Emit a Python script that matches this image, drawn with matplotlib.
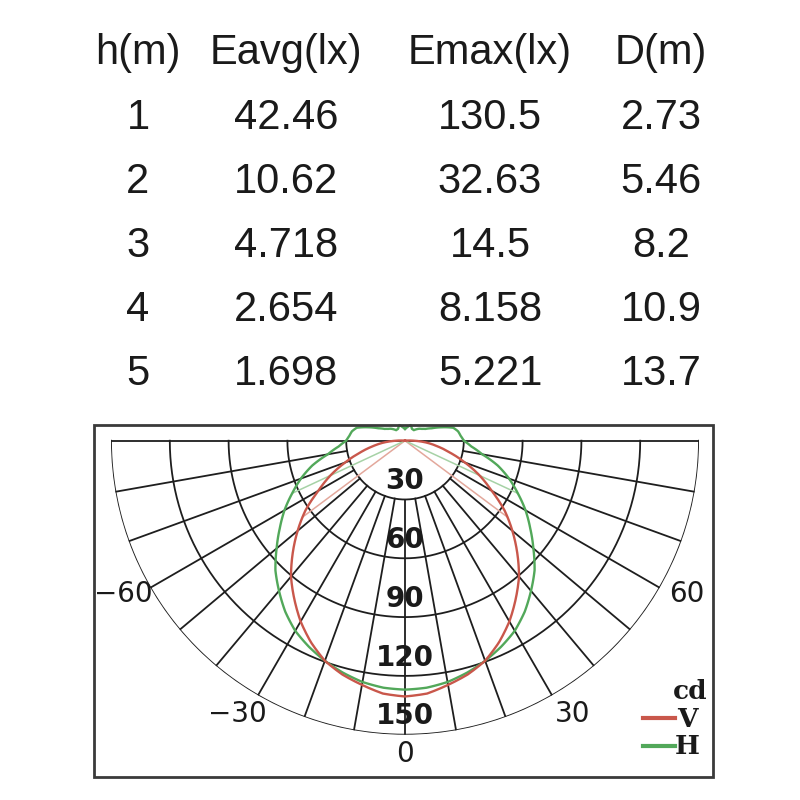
import numpy as np
import matplotlib
matplotlib.use("Agg")
import matplotlib.pyplot as plt
from matplotlib.patches import Rectangle
from matplotlib.lines import Line2D

# ---------------- data ----------------
headers = ["h(m)", "Eavg(lx)", "Emax(lx)", "D(m)"]
h_m = [1, 2, 3, 4, 5]
eavg = [42.46, 10.62, 4.718, 2.654, 1.698]
emax = [130.5, 32.63, 14.5, 8.158, 5.221]
dist = [2.73, 5.46, 8.2, 10.9, 13.7]

ring_values = [30, 60, 90, 120, 150]
angle_ticks = [-60, -30, 0, 30, 60]

# V plane (cd) vs angle from nadir (deg), symmetric
v_angles = [0, 5, 10, 15, 20, 25, 30, 35, 40, 45, 50, 55, 60, 65, 70, 75, 80, 85, 90, 95]
v_cd = [130.5, 129.5, 126.5, 123.5, 119.5, 113.5, 106.5, 98.5, 90.5, 81, 71.5, 62,
        51, 42, 32.5, 24, 17, 11, 4.5, 0]

# H plane (cd) vs angle from nadir (deg), symmetric
h_angles = [0, 5, 10, 15, 20, 25, 30, 35, 40, 45, 50, 55, 60, 65, 70, 75, 80, 85, 90,
            95, 100, 105, 110, 115, 120, 125, 130, 140, 150, 160, 170, 180]
h_cd = [127, 126.5, 125, 122.5, 119.5, 116, 112, 106.5, 100, 93.5, 85.5, 78, 71, 63.5,
        56.5, 49, 40, 34, 30, 28.5, 27.5, 25.5, 20, 15, 12, 10.5, 9.5, 7, 7, 8.5, 7, 6]

RED = "#c9574b"
GREEN = "#52a85a"
RED_L = "#e3a89c"
GREEN_L = "#a6d2a6"
GRID = "#1e1e1e"

W = H = 800
fig = plt.figure(figsize=(8, 8), dpi=100)


def fx(x):
    return x / W


def fy(y):
    return 1 - y / H


# ---------------- table ----------------
col_x = [138, 286, 490, 661]
header_y = 63.8
row_y = [129.4, 193.4, 257.4, 321.3, 385.3]
tfont = dict(family=["Liberation Sans", "DejaVu Sans"], size=30, ha="center", va="baseline", color="#1a1a1a")
for x, t in zip(col_x, headers):
    fig.text(fx(x), fy(header_y), t, **tfont)
for i, y in enumerate(row_y):
    for x, col in zip(col_x, [h_m, eavg, emax, dist]):
        fig.text(fx(x), fy(y), f"{col[i]:g}", **tfont)

# ---------------- frame ----------------
fig.add_artist(Rectangle((fx(94), fy(777)), (713 - 94) / W, (777 - 425) / H,
                         transform=fig.transFigure, fill=False, lw=2, ec="#3a3a3a"))

# ---------------- polar diagram ----------------
cx, cy, R = 405, 440.7, 294
ax = fig.add_axes([fx(cx - R), fy(cy + R), 2 * R / W, 2 * R / H], projection="polar")
ax.set_theta_zero_location("S")
ax.set_theta_direction(1)
ax.set_ylim(0, 150)
ax.grid(False)
ax.set_xticks([])
ax.set_yticks([])
ax.spines["polar"].set_visible(False)
ax.patch.set_alpha(0)

# rings (lower half)
th = np.radians(np.linspace(-90, 90, 361))
for r in ring_values:
    ax.plot(th, np.full_like(th, r), color=GRID, lw=1.3, zorder=1)
# spokes
for a in range(-80, 81, 10):
    ax.plot([np.radians(a)] * 2, [ring_values[0], ring_values[-1]], color=GRID, lw=1.3, zorder=1)
for a in (-90, 90):
    ax.plot([np.radians(a)] * 2, [0, ring_values[-1]], color=GRID, lw=1.3, zorder=1)


# curves (mirror the symmetric halves)
def full(angles, vals):
    a = np.array(angles, float)
    v = np.array(vals, float)
    aa = np.concatenate([-a[::-1], a[1:]])
    vv = np.concatenate([v[::-1], v[1:]])
    return np.radians(aa), vv


tv, rv = full(v_angles, v_cd)
tg, rg = full(h_angles, h_cd)


# half-intensity (beam) lines
def half_angle(angles, vals, upto=90):
    a = np.array([x for x in angles if x <= upto], float)
    v = np.array(vals[:len(a)], float)
    return np.interp(v[0] / 2, v[::-1], a[::-1])


for angs, vals, col in ((v_angles, v_cd, RED_L), (h_angles, h_cd, GREEN_L)):
    ha_ = half_angle(angs, vals)
    rr = vals[0] / 2
    for s in (-1, 1):
        ax.plot([np.radians(s * ha_)] * 2, [0, rr], color=col, lw=1.1, zorder=2)

lg, = ax.plot(tg, rg, color=GREEN, lw=1.7, zorder=3)
lv, = ax.plot(tv, rv, color=RED, lw=1.7, zorder=3)
# let the polar transform draw each segment as a curve in (theta, r)
for ln in (lg, lv):
    ln.get_path()._interpolation_steps = 24

# ring labels
for r in ring_values:
    ax.text(0, r - 2.2, f"{r}", ha="center", va="bottom", fontsize=20, fontweight="bold",
            family="DejaVu Sans", color="#1a1a1a", zorder=4)

# angle labels
for a in angle_ticks:
    lab = f"{a}".replace("-", "\u2212")
    if a == 0:
        ax.text(0, 160, lab, ha="center", va="center", fontsize=20, family="DejaVu Sans", color="#1a1a1a")
    else:
        pa = a + np.sign(a) * 1.5
        ax.text(np.radians(pa), 163.5, lab, ha="center", va="center", fontsize=20,
                family="DejaVu Sans", color="#1a1a1a")

# legend (unit + plane keys)
lfont = dict(family=["DejaVu Serif"], fontweight="bold", size=19, color="#1a1a1a", va="baseline")
fig.text(fx(690), fy(699), "cd", ha="center", **lfont)
fig.text(fx(687), fy(726.7), "V", ha="center", **lfont)
fig.text(fx(687), fy(754), "H", ha="center", **lfont)
fig.add_artist(Line2D([fx(643), fx(675)], [fy(718.3)] * 2, color=RED, lw=3, transform=fig.transFigure))
fig.add_artist(Line2D([fx(643), fx(675)], [fy(745.7)] * 2, color=GREEN, lw=3, transform=fig.transFigure))

fig.savefig("out.png", dpi=100)
